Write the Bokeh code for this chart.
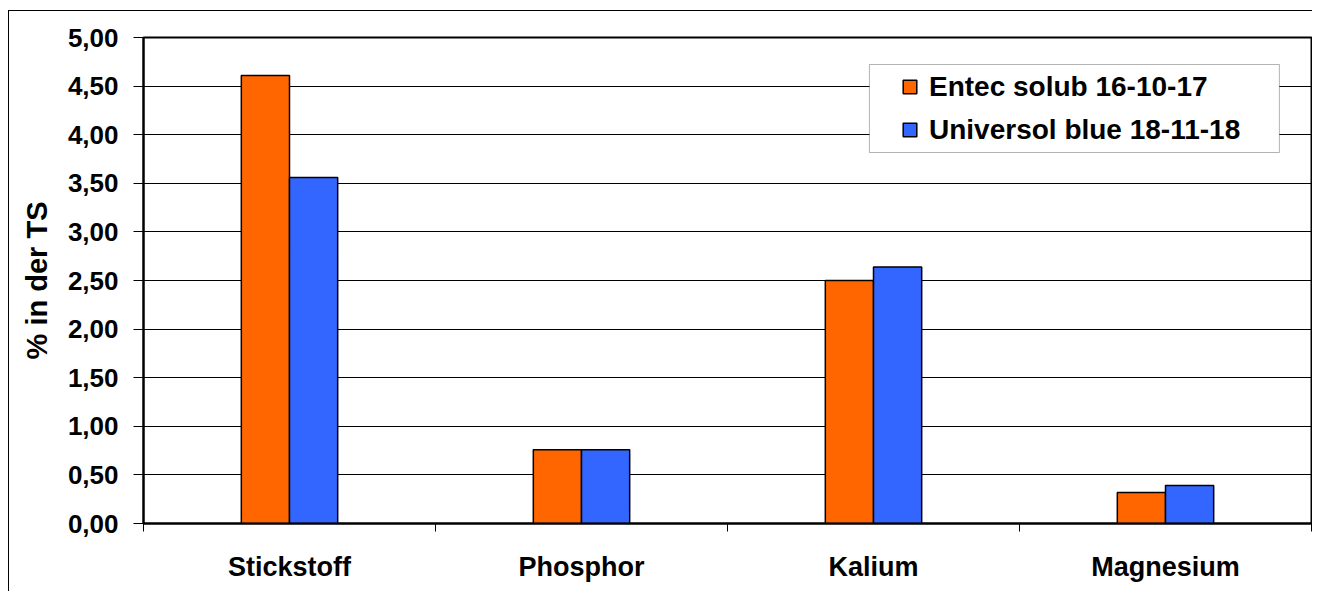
from bokeh.plotting import figure
from bokeh.models import (ColumnDataSource, Range1d, FixedTicker,
                          CustomJSTickFormatter, BoxAnnotation)
from bokeh.transform import dodge
from bokeh.embed import file_html
from bokeh.resources import INLINE

categories = ["Stickstoff", "Phosphor", "Kalium", "Magnesium"]
series_names = ["Entec solub 16-10-17", "Universol blue 18-11-18"]
entec = [4.61, 0.76, 2.50, 0.32]
universol = [3.56, 0.76, 2.64, 0.39]
y_ticks = [0.0, 0.5, 1.0, 1.5, 2.0, 2.5, 3.0, 3.5, 4.0, 4.5, 5.0]
y_label = "% in der TS"

FONT = "Liberation Sans"
ORANGE = "#FF6600"
BLUE = "#3366FF"

# category slots: each category occupies one unit on the x scale
centres = [i + 0.5 for i in range(len(categories))]
bounds = [float(i) for i in range(len(categories) + 1)]

src = ColumnDataSource(data=dict(x=centres, cat=categories, entec=entec, universol=universol))

p = figure(x_range=Range1d(0, len(categories)),
           y_range=Range1d(0, 5),
           width=1304, height=581, title=None,
           output_backend="svg", toolbar_location=None,
           min_border_left=134, min_border_right=2,
           min_border_top=26, min_border_bottom=69)
p.styles = {"border-left": "1px solid #000000", "border-top": "1px solid #000000",
            "margin-left": "8px", "margin-top": "10px"}

p.background_fill_color = "white"
p.border_fill_color = "white"
p.outline_line_color = "black"
p.outline_line_width = 2

bw = 0.165
p.vbar(x=dodge("x", -bw / 2), top="entec", width=bw, source=src,
       fill_color=ORANGE, line_color="black", line_width=1.5, legend_label=series_names[0])
p.vbar(x=dodge("x", bw / 2), top="universol", width=bw, source=src,
       fill_color=BLUE, line_color="black", line_width=1.5, legend_label=series_names[1])

# y axis
yax = p.yaxis[0]
yax.ticker = FixedTicker(ticks=y_ticks, minor_ticks=[])
yax.formatter = CustomJSTickFormatter(code="return tick.toFixed(2).replace('.', ',');")
yax.major_label_text_font = FONT
yax.major_label_text_font_style = "bold"
yax.major_label_text_font_size = "26px"
yax.major_label_text_color = "black"
yax.major_label_standoff = 15
yax.major_tick_out = 10
yax.major_tick_in = 0
yax.major_tick_line_color = "black"
yax.major_tick_line_width = 1
yax.minor_tick_line_color = None
yax.axis_line_color = "black"
yax.axis_line_width = 2
yax.axis_label = y_label
yax.axis_label_text_font = FONT
yax.axis_label_text_font_style = "bold"
yax.axis_label_text_font_size = "29px"
yax.axis_label_text_color = "black"
yax.axis_label_standoff = 12

p.ygrid.ticker = FixedTicker(ticks=y_ticks)
p.ygrid.grid_line_color = "black"
p.ygrid.grid_line_width = 1
p.xgrid.grid_line_color = None

# x axis: labels at category centres, ticks at category boundaries
xax = p.xaxis[0]
xax.ticker = FixedTicker(ticks=centres, minor_ticks=bounds)
xax.major_label_overrides = {c: n for c, n in zip(centres, categories)}
xax.major_tick_out = 0
xax.major_tick_in = 0
xax.major_tick_line_color = None
xax.minor_tick_out = 8
xax.minor_tick_in = 0
xax.minor_tick_line_color = "black"
xax.minor_tick_line_width = 1
xax.axis_line_color = "black"
xax.axis_line_width = 2
xax.major_label_text_font = FONT
xax.major_label_text_font_style = "bold"
xax.major_label_text_font_size = "27px"
xax.major_label_text_color = "black"
xax.major_label_standoff = 20

# legend box
box = BoxAnnotation(left=2.486, right=3.890, bottom=3.817, top=4.722,
                    fill_color="white", fill_alpha=1.0,
                    line_color="black", line_width=1, level="overlay")
p.add_layout(box)

lg = p.legend[0]
lg.location = (758, 376)
lg.border_line_color = None
lg.background_fill_alpha = 0
lg.padding = 8
lg.spacing = 8
lg.margin = 0
lg.glyph_width = 17
lg.glyph_height = 17
lg.label_height = 35
lg.label_standoff = 11
lg.label_text_font = FONT
lg.label_text_font_style = "bold"
lg.label_text_font_size = "28px"
lg.label_text_color = "black"
lg.level = "overlay"

open("out.html", "w").write(file_html(p, INLINE))
